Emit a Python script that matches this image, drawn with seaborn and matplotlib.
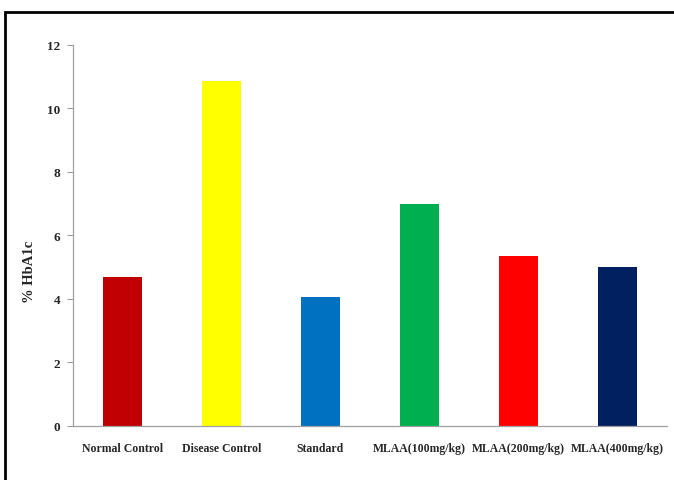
import matplotlib
matplotlib.use("Agg")
import matplotlib.pyplot as plt
from matplotlib.patches import Rectangle
from matplotlib.ticker import FixedLocator
import seaborn as sns
import pandas as pd
import numpy as np

groups = ["Normal Control", "Disease Control", "Standard",
          "MLAA(100mg/kg)", "MLAA(200mg/kg)", "MLAA(400mg/kg)"]
hba1c = [4.67, 10.87, 4.04, 6.99, 5.35, 5.0]
bar_colors = ["#C00000", "#FFFF00", "#0070C0", "#00B050", "#FF0000", "#002060"]
y_ticks = [0, 2, 4, 6, 8, 10, 12]

df = pd.DataFrame({"group": groups, "hba1c": hba1c})

sns.set_style("white")
plt.rcParams["font.family"] = ["Liberation Serif", "DejaVu Serif"]

fig = plt.figure(figsize=(6.74, 4.81), dpi=100)
ax = fig.add_axes([73 / 674, 1 - 426.5 / 481, (667 - 73) / 674, (426.5 - 46) / 481])

sns.barplot(data=df, x="group", y="hba1c", hue="group", palette=bar_colors,
            order=groups, hue_order=groups, width=0.4, legend=False,
            saturation=1, ax=ax, linewidth=0)

ax.set_xlim(-0.5, len(groups) - 0.5)
ax.set_ylim(0, 12)
ax.set_yticks(y_ticks)
ax.set_yticklabels([str(t) for t in y_ticks], fontsize=9.5, fontweight="bold")
ax.set_xticks(range(len(groups)))
ax.set_xticklabels(groups, fontsize=8.5, fontweight="bold")
ax.tick_params(axis="x", which="major", length=0, pad=12)
ax.xaxis.set_minor_locator(FixedLocator(np.arange(-0.5, len(groups), 1.0)))
ax.tick_params(axis="x", which="minor", length=4, color="#A0A0A0", width=0.8, direction="out")
ax.tick_params(axis="y", which="major", length=4, color="#A0A0A0", width=0.8,
               direction="out", pad=5, left=True)

for side in ["top", "right"]:
    ax.spines[side].set_visible(False)
for side in ["left", "bottom"]:
    ax.spines[side].set_color("#A0A0A0")
    ax.spines[side].set_linewidth(0.9)

ax.set_xlabel("")
ax.set_ylabel("% HbA1c", fontsize=10.5, fontweight="bold")
ax.yaxis.set_label_coords(-0.062, 0.406)

# outer frame around the chart area
fig.patches.append(Rectangle((5 / 674, -0.1), 1.2, 1 - 13 / 481 + 0.1,
                             transform=fig.transFigure, fill=False,
                             edgecolor="black", linewidth=2, zorder=10))

fig.savefig("out.png", dpi=100)
